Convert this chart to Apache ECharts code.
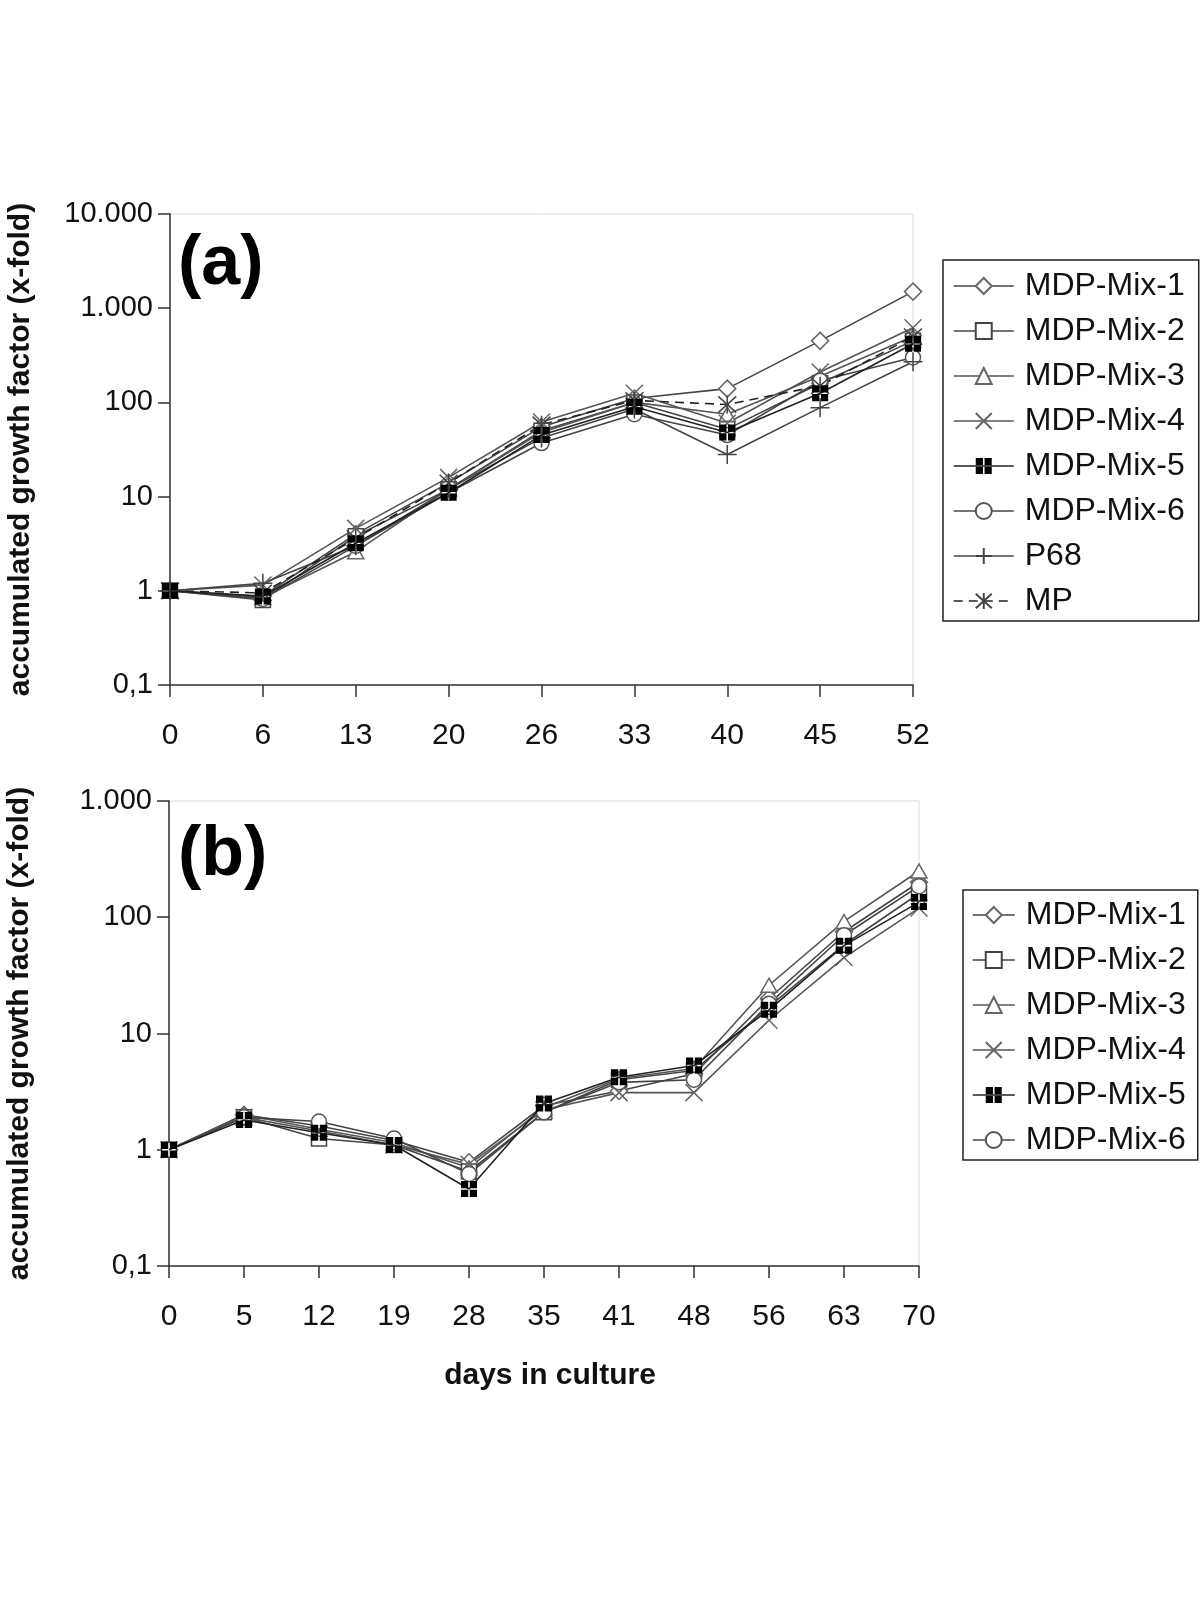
<!DOCTYPE html>
<html>
<head>
<meta charset="utf-8">
<script src="https://cdn.jsdelivr.net/npm/echarts@6/dist/echarts.min.js"></script>
<style>
html,body{margin:0;padding:0;background:#fff}
#c{width:1200px;height:1600px}
</style>
</head>
<body>
<div id="c"></div>
<script>
// ---------- DATA ----------
const daysA = ['0','6','13','20','26','33','40','45','52'];
const daysB = ['0','5','12','19','28','35','41','48','56','63','70'];

const namesA = ['MDP-Mix-1','MDP-Mix-2','MDP-Mix-3','MDP-Mix-4','MDP-Mix-5','MDP-Mix-6','P68','MP'];
const namesB = ['MDP-Mix-1','MDP-Mix-2','MDP-Mix-3','MDP-Mix-4','MDP-Mix-5','MDP-Mix-6'];

// panel (a)
const a_mix1 = [1, 0.88, 4.0, 14, 55, 110, 140, 450, 1500];
const a_mix2 = [1, 0.80, 3.8, 12, 50, 100, 52, 160, 450];
const a_mix3 = [1, 0.85, 2.6, 12, 48, 100, 75, 190, 500];
const a_mix4 = [1, 1.15, 4.6, 16, 62, 125, 60, 210, 620];
const a_mix5 = [1, 0.87, 3.2, 11, 45, 90, 48, 125, 420];
const a_mix6 = [1, 0.82, 3.0, 11, 37, 75, 45, 170, 300];
const a_p68  = [1, 1.20, 3.0, 12, 42, 85, 28, 88, 270];
const a_mp   = [1, 0.95, 3.6, 14, 58, 105, 95, 150, 500];

// panel (b)
const b_mix1 = [1, 2.0, 1.6, 1.2, 0.78, 2.4, 3.2, 4.5, 20, 75, 200];
const b_mix2 = [1, 1.9, 1.25, 1.1, 0.65, 2.1, 4.0, 4.8, 17, 58, 160];
const b_mix3 = [1, 2.0, 1.5, 1.15, 0.70, 2.3, 4.1, 5.0, 26, 92, 250];
const b_mix4 = [1, 1.9, 1.45, 1.1, 0.75, 2.2, 3.1, 3.1, 13, 45, 120];
const b_mix5 = [1, 1.8, 1.4, 1.1, 0.46, 2.5, 4.2, 5.3, 16, 57, 135];
const b_mix6 = [1, 1.9, 1.75, 1.25, 0.62, 2.1, 3.8, 4.0, 18, 70, 185];

// tick labels (index = log10(value) + 1)
const yTickLabels = ['0,1', '1', '10', '100', '1.000', '10.000'];

const yTitle = 'accumulated growth factor (x-fold)';
const xTitle = 'days in culture';

// ---------- STYLES ----------
const FONT = '"Liberation Sans", Arial, sans-serif';
const styles = {
  'MDP-Mix-1': {symbol:'diamond', size:[17,17], fill:'#fff', stroke:'#666', bw:1.5, line:'#444'},
  'MDP-Mix-2': {symbol:'rect', size:15, fill:'#fff', stroke:'#444', bw:1.5, line:'#444'},
  'MDP-Mix-3': {symbol:'triangle', size:[16,14], fill:'#fff', stroke:'#666', bw:1.5, line:'#555'},
  'MDP-Mix-4': {symbol:'path://M0,0L20,20M20,0L0,20', size:17, fill:'none', stroke:'#666', bw:1.5, line:'#555'},
  'MDP-Mix-5': {symbol:'path://M0,0H9V9H0ZM11,0H20V9H11ZM0,11H9V20H0ZM11,11H20V20H11Z', size:16, fill:'#000', stroke:'#000', bw:0, line:'#222', z:4},
  'MDP-Mix-6': {symbol:'circle', size:15, fill:'#fff', stroke:'#555', bw:1.5, line:'#444'},
  'P68': {symbol:'path://M10,0L10,20M0,10L20,10', size:19, fill:'none', stroke:'#444', bw:1.5, line:'#444'},
  'MP': {symbol:'path://M1,1L19,19M19,1L1,19M10,0L10,20', size:18, fill:'none', stroke:'#444', bw:1.5, line:'#222', dashed:true}
};

function mkSeries(name, data, gi) {
  const s = styles[name];
  return {
    name: name, type: 'line', xAxisIndex: gi, yAxisIndex: gi, data: data,
    symbol: s.symbol, symbolSize: s.size, showAllSymbol: true,
    z: s.z || 2,
    itemStyle: {color: s.fill, borderColor: s.stroke, borderWidth: s.bw},
    lineStyle: {color: s.line, width: 1.6, type: s.dashed ? [9,6] : 'solid'},
    emphasis: {disabled: true},
    animation: false
  };
}

const seriesA = [a_mix1, a_mix2, a_mix3, a_mix4, a_mix5, a_mix6, a_p68, a_mp];
const seriesB = [b_mix1, b_mix2, b_mix3, b_mix4, b_mix5, b_mix6];

function yAxisCfg(gi, max, split) {
  return {
    gridIndex: gi, type: 'log', logBase: 10, min: 0.1, max: max, splitNumber: split,
    name: yTitle, nameLocation: 'middle', nameGap: 134,
    nameTextStyle: {fontFamily: FONT, fontSize: 30, fontWeight: 'bold', color: '#111'},
    axisLine: {show: true, lineStyle: {color: '#333', width: 1.5}},
    axisTick: {show: true, length: 12, lineStyle: {color: '#333', width: 1.5}},
    minorTick: {show: false},
    splitLine: {show: false},
    axisLabel: {
      fontFamily: FONT, fontSize: 29, color: '#111', margin: 17,
      formatter: function (v) { return yTickLabels[Math.round(Math.log10(v)) + 1]; }
    }
  };
}

function xAxisCfg(gi, cats, withName) {
  const c = {
    gridIndex: gi, type: 'category', data: cats, boundaryGap: false,
    axisLine: {lineStyle: {color: '#333', width: 1.5}},
    axisTick: {show: true, length: 12, alignWithLabel: true, lineStyle: {color: '#333', width: 1.5}},
    axisLabel: {fontFamily: FONT, fontSize: 30, color: '#111', margin: 36, interval: 0},
    splitLine: {show: false}
  };
  if (withName) {
    c.name = xTitle; c.nameLocation = 'middle'; c.nameGap = 95;
    c.nameTextStyle = {fontFamily: FONT, fontSize: 30, fontWeight: 'bold', color: '#111', padding: [0, 0, 0, 12]};
  }
  return c;
}

function legendCfg(names, left, top, iw, pad) {
  return {
    orient: 'vertical', left: left, top: top, data: names,
    itemWidth: iw, itemHeight: 20, itemGap: 13,
    padding: pad, borderColor: '#222', borderWidth: 1.5,
    selectedMode: false,
    textStyle: {fontFamily: FONT, fontSize: 32, color: '#111', lineHeight: 32, padding: [0,0,0,6]},
    lineStyle: {width: 1.5}
  };
}

const chart = echarts.init(document.getElementById('c'), null, {renderer: 'canvas'});
chart.setOption({
  backgroundColor: '#fff',
  animation: false,
  grid: [
    {left: 170, top: 214, width: 743, height: 471, show: true, borderColor: '#ddd', borderWidth: 1, containLabel: false, outerBoundsMode: 'none'},
    {left: 169, top: 801, width: 750, height: 465, show: true, borderColor: '#ddd', borderWidth: 1, containLabel: false, outerBoundsMode: 'none'}
  ],
  xAxis: [xAxisCfg(0, daysA, false), xAxisCfg(1, daysB, true)],
  yAxis: [yAxisCfg(0, 10000, 5), yAxisCfg(1, 1000, 4)],
  legend: [
    legendCfg(namesA, 943, 260, 60, [10, 14, 4, 10]),
    legendCfg(namesB, 963, 890, 42, [9, 12, 4, 9])
  ],
  graphic: [
    {type: 'text', left: 178, top: 230, style: {text: '(a)', font: 'bold 70px "Liberation Sans", Arial', fill: '#000'}},
    {type: 'text', left: 178, top: 821, style: {text: '(b)', font: 'bold 70px "Liberation Sans", Arial', fill: '#000'}}
  ],
  series: namesA.map((n, i) => mkSeries(n, seriesA[i], 0))
    .concat(namesB.map((n, i) => mkSeries(n, seriesB[i], 1)))
});
</script>
</body>
</html>
